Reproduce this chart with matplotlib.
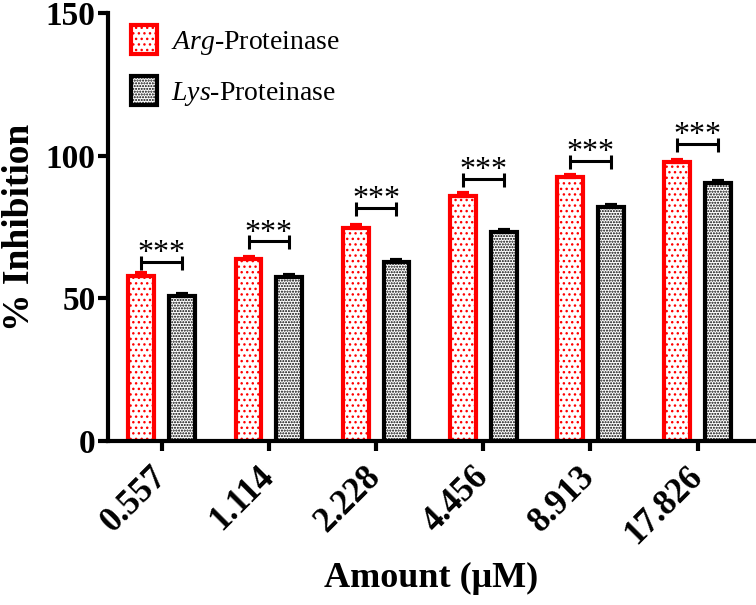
import matplotlib
matplotlib.use('Agg')
import matplotlib.pyplot as plt
import matplotlib.transforms as mtransforms
import numpy as np

# Data
amounts = ['0.557', '1.114', '2.228', '4.456', '8.913', '17.826']
arg_inhibition = [57.8, 63.7, 74.8, 86.0, 92.5, 97.8]
lys_inhibition = [51.0, 57.5, 62.9, 73.3, 82.0, 90.6]
arg_err = [1.2, 0.8, 0.8, 0.9, 0.8, 0.7]
lys_err = [0.5, 0.6, 0.5, 0.7, 0.7, 0.6]
bracket_heights = [62.8, 70.0, 81.8, 92.0, 98.1, 104.2]
sig_labels = ['***', '***', '***', '***', '***', '***']

plt.rcParams['font.family'] = ['Liberation Serif', 'DejaVu Serif']
plt.rcParams['mathtext.fontset'] = 'custom'
plt.rcParams['mathtext.rm'] = 'Liberation Serif'
plt.rcParams['mathtext.it'] = 'Liberation Serif:italic'
plt.rcParams['hatch.linewidth'] = 1.0

fig = plt.figure(figsize=(7.56, 6.05), dpi=100)
ax = fig.add_axes([0.143, 0.271, 0.855, 0.707])

x = np.arange(len(amounts))
width = 0.24
offset = 0.19

ax.bar(x - offset, arg_inhibition, width, facecolor='white', edgecolor='#FF0000',
       linewidth=3, hatch='...', label=r'$\mathit{Arg}$-Proteinase', zorder=2)
ax.bar(x + offset, lys_inhibition, width, facecolor='white', edgecolor='black',
       linewidth=3, hatch='......', label=r'$\mathit{Lys}$-Proteinase', zorder=2)

# upper error bars only
ax.errorbar(x - offset, arg_inhibition, yerr=[np.zeros(len(x)), arg_err], fmt='none',
            ecolor='#FF0000', elinewidth=3, capsize=4.5, capthick=3, zorder=3)
ax.errorbar(x + offset, lys_inhibition, yerr=[np.zeros(len(x)), lys_err], fmt='none',
            ecolor='black', elinewidth=3, capsize=4.5, capthick=3, zorder=3)

# significance brackets
for i, h in enumerate(bracket_heights):
    x0, x1 = x[i] - offset, x[i] + offset
    ax.plot([x0, x1], [h, h], color='black', lw=2.2, solid_capstyle='butt')
    ax.plot([x0, x0], [h - 2.8, h + 2.1], color='black', lw=2.2, solid_capstyle='butt')
    ax.plot([x1, x1], [h - 2.8, h + 2.1], color='black', lw=2.2, solid_capstyle='butt')
    ax.text(x[i], h + 0.3, sig_labels[i], ha='center', va='baseline', fontsize=23)

ax.set_xlim(-0.5, 5.53)
ax.set_ylim(0, 150)
ax.set_yticks([0, 50, 100, 150])
ax.set_xticks(x)
ax.set_xticklabels(amounts, rotation=45, ha='right', va='center',
                   rotation_mode='anchor', fontsize=25, fontweight='bold')
shift = mtransforms.ScaledTranslation(3 / 100, 0, fig.dpi_scale_trans)
for lab in ax.get_xticklabels():
    lab.set_transform(lab.get_transform() + shift)
for lab in ax.get_yticklabels():
    lab.set_fontsize(24)
    lab.set_fontweight('bold')

ax.spines[['top', 'right']].set_visible(False)
ax.spines['left'].set_linewidth(3)
ax.spines['bottom'].set_linewidth(3)
ax.tick_params(axis='both', width=3, length=7, direction='out')
ax.tick_params(axis='x', pad=15)
ax.tick_params(axis='y', pad=2)

ax.set_xlabel('Amount (μM)', fontsize=26, fontweight='bold', labelpad=8)
ax.set_ylabel('% Inhibition', fontsize=27, fontweight='bold', labelpad=6)

ax.legend(loc='upper left', bbox_to_anchor=(0.035, 0.972), frameon=False, fontsize=20,
          handlelength=0.95, handleheight=1.2, labelspacing=0.7, handletextpad=0.5,
          borderaxespad=0, borderpad=0)

fig.savefig('out.png', dpi=100)
plt.close(fig)
